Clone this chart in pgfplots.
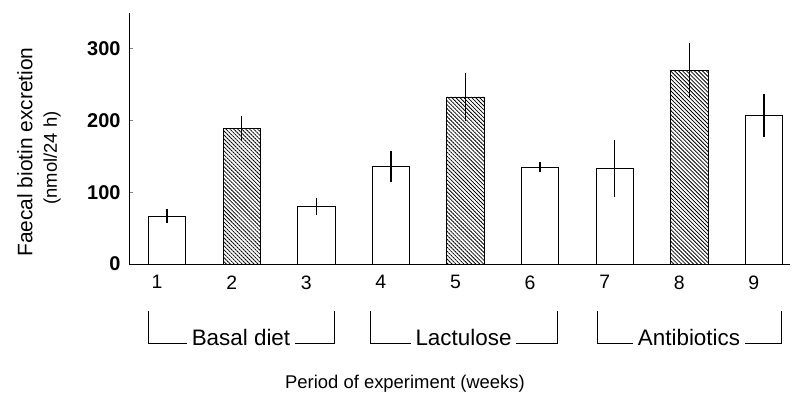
\documentclass[border=0pt]{standalone}
\usepackage{pgfplots}
\pgfplotsset{compat=1.18}
\usepackage{fontspec}
\setmainfont{Liberation Sans}
\usetikzlibrary{patterns.meta}

\pgfplotstableread{
x  y    e
1  67   10
3  80   12
4  136  21
6  135  7
7  133  40
9  207  30
}\openbars
\pgfplotstableread{
x  y    e
2  189  17
5  233  34
8  270  38
}\hatchbars

\begin{document}
\begin{tikzpicture}
\path[use as bounding box] (-129bp,-142bp) rectangle (665bp,264bp);
\begin{axis}[
  at={(0,0)}, anchor=south west,
  scale only axis, width=661bp, height=251bp,
  xmin=0.49, xmax=9.35, ymin=0, ymax=350,
  axis lines=left, axis line style={-, line width=0.8bp},
  ytick={0,100,200,300}, xtick={1,2,3,4,5,6,7,8,9},
  tick align=inside, major tick length=4bp,
  x tick style={draw=none},
  y tick style={line width=0.8bp},
  /pgf/number format/assume math mode=true,
  yticklabel style={font=\fontsize{20}{20}\selectfont\bfseries, xshift=-5bp},
  xticklabel style={font=\fontsize{19.5}{19.5}\selectfont, xshift=-10bp, yshift=-8bp},
  clip=false,
]
\addplot[ybar, bar shift=0pt, bar width=0.5, draw=black, line width=0.8bp, fill=white,
  error bars/.cd, y dir=both, y explicit, error mark=none,
  error bar style={line width=1.5bp, black}]
  table[x=x, y=y, y error=e] {\openbars};
\addplot[ybar, bar shift=0pt, bar width=0.5, draw=black, line width=0.8bp,
  pattern={Lines[angle=-45, distance=2.8bp, line width=0.8bp]},
  error bars/.cd, y dir=both, y explicit, error mark=none,
  error bar style={line width=1.5bp, black}]
  table[x=x, y=y, y error=e] {\hatchbars};
\end{axis}
% group brackets
\foreach \a/\b/\t in {19bp/205bp/{Basal diet}, 241bp/428bp/{Lactulose}, 468bp/652bp/{Antibiotics}}{
  \draw[line width=0.8bp] (\a,-47bp) -- (\a,-79bp) -- (\b,-79bp) -- (\b,-47bp);
  \node[fill=white, inner xsep=5bp, inner ysep=3bp, anchor=mid, font=\fontsize{22.5}{22.5}\selectfont] at ({(\a+\b)/2},-79bp) {\t};
}
\node[font=\fontsize{18.5}{18.5}\selectfont] at (276bp,-120bp) {Period of experiment (weeks)};
\node[rotate=90, font=\fontsize{21}{21}\selectfont] at (-104bp,112bp) {Faecal biotin excretion};
\node[rotate=90, font=\fontsize{18.5}{18.5}\selectfont] at (-77bp,106bp) {(nmol/24 h)};
\end{tikzpicture}
\end{document}
